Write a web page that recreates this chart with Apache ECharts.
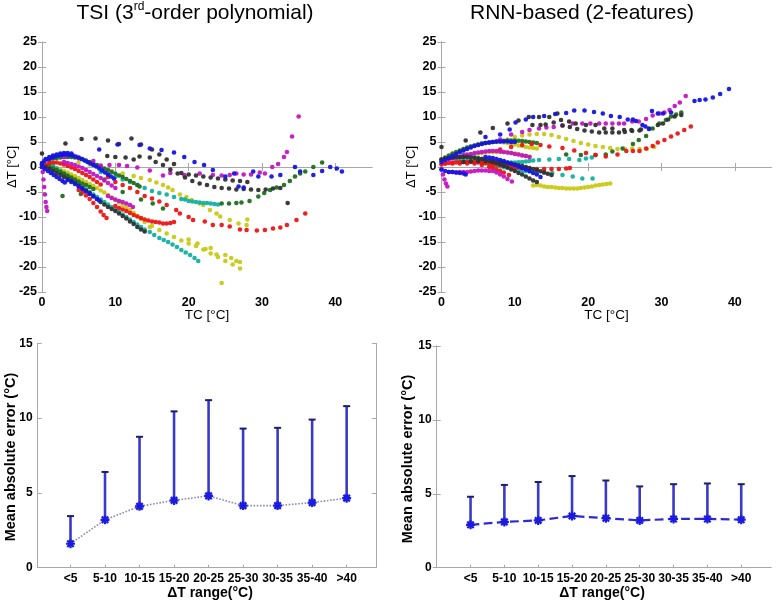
<!DOCTYPE html>
<html>
<head>
<meta charset="utf-8">
<script src="https://cdn.jsdelivr.net/npm/echarts@6/dist/echarts.min.js"></script>
<style>html,body{margin:0;padding:0;background:#fff}#c{width:778px;height:600px}</style>
</head>
<body>
<div id="c"></div>
<script>
// ---------- Top-left: TSI (3rd-order polynomial), points [TC, dT] ----------
const tsiBlue = [
[0,0.8],[0.3,1.2],[0.6,1.5],[1,1.7],[1.4,1.9],[1.8,2.1],[2.2,2.3],[2.6,2.4],[3,2.5],[3.4,2.5],[3.8,2.4],[4.2,2.3],[4.6,2.1],[5,1.9],[5.4,1.6],[5.8,1.3],[6.2,1],[6.6,0.7],[7,0.4],[7.4,0.1],[7.8,-0.3],[8.2,-0.7],[8.6,-1.1],[9,-1.5],[9.4,-1.9],[9.8,-2.3],
[0.5,1.6],[1,2],[1.5,2.3],[2,2.5],[2.5,2.7],[3,2.8],[3.5,2.8],[4,2.7],
[0,0],[0.4,-0.4],[0.8,-0.8],[1.2,-1.2],[1.6,-1.6],[2,-2],[2.4,-2.4],[2.8,-2.8],[3.1,-3.1],
[3.5,-2.6],[4,-3],[4.5,-3.4],[5,-3.9],[5.5,-4.4],[6,-4.9],[6.5,-5.4],[7,-5.9],[7.5,-6.4],[7.8,-6.7],
[7.8,3.5],[10.3,4.5],[13.3,4.4],[14.7,3.7],[16.3,3.4],[18,2.9],[19.4,2],[20.8,1],[22.1,0.4],[23.3,-0.6],[25,-1.9],[26.2,-1.3],[26.8,-3.9],[27.5,-4.1],[28.8,-0.9],[29.5,-1.9],[31.3,-1.9],[32.5,-1.6],[34.5,0],[35.2,-0.9],[37,-1.6],[38.2,-0.8],[39.3,0],[40.2,-0.3],[40.9,-0.9]
];
const tsiGreen = [
[1,1.5],[1.5,1.7],[2,1.8],[2.5,1.9],[3,2],[3.5,2],[4,2],[4.5,1.9],[5,1.8],[5.5,1.6],[6,1.3],[6.5,1],[7,0.7],[7.5,0.4],[8,0.1],[8.5,-0.3],[9,-0.6],[9.5,-1],[10,-1.3],[10.5,-1.7],[11,-2],[11.5,-2.4],[12,-2.8],[12.5,-3.2],[13,-3.6],[13.3,-3.9],
[0,0.5],[0.5,0.3],[1,0],[1.5,-0.3],[2,-0.6],[2.5,-1],[3,-1.3],[3.5,-1.7],[4,-2.1],[4.5,-2.5],[5,-2.9],[5.5,-3.3],[6,-3.6],[6.5,-4],[7,-4.4],
[24.5,-7.3],[25.5,-7.3],[26.5,-7.2],[27.2,-7.1],[28.3,-6.8],[29.5,-5.9],[30.3,-5.2],[31.1,-4.6],[32,-4.1],[33,-3.6],[33.8,-2.8],[34.5,-1.9],[35.2,-1.3],[35.9,-0.9],[37,0],[38.2,0.9],
[2.8,-5.8],[5.3,-5.4],[8.5,-2.5],[11,-5],[15.1,-7.3],[16.5,-8.3],[13.5,-6.5]
];
const tsiRed = [
[5,-4.6],[5.5,-5.1],[6,-5.7],[6.5,-6.4],[7,-7.2],[7.5,-8],[8,-8.9],[8.4,-9.6],[8.8,-10.2],
[10,-7.8],[10.5,-8.2],[11,-8.5],[11.5,-8.8],[12,-9.2],[12.5,-9.6],[13,-9.9],[13.5,-10.2],[14,-10.5],[14.5,-10.7],[15,-10.9],[15.5,-11],[16,-11.1],[16.5,-11.3],[17,-11.3],[17.5,-11.2],[18,-11],
[9,-2],[10,-3],[11,-3.6],[12,-4.2],[13,-5],[14,-5.8],[15,-6.3],[16,-6.9],[17,-7.6],[18.3,-8.6],[18.8,-9.3],[20,-10],[20.6,-10.6],[22.2,-10.9],[23.3,-11.6],[24.5,-11.6],[25.6,-11.9],[27,-12.5],[27.9,-12.6],[29.3,-12.7],[30.4,-12.6],[31.5,-12.3],[32.5,-12.1],[33.4,-11.6],[34.7,-10.6],[35.9,-9.3],
[0,0],[0.5,0.5],[1,0.8],[1.5,0.9],[2,0.9],[2.5,0.7],[3,0.5],[3.5,0.2],[4,-0.1],[4.5,-0.4],[5,-0.8],[5.5,-1.2],[6,-1.6],[6.5,-2],[7,-2.5],[7.5,-3],[8,-3.5]
];
const tsiCyan = [
[1,0.8],[1.5,0.3],[2,-0.3],[2.5,-0.8],[3,-1.4],[3.5,-1.9],[4,-2.5],[4.5,-3],[5,-3.5],[5.5,-4],[6,-4.5],[6.5,-5],[7,-5.5],[7.5,-6],[8,-6.5],[8.5,-7],[9,-7.5],[9.5,-8],[10,-8.5],[10.5,-9],[11,-9.5],[11.5,-10],[12,-10.5],[12.5,-11],[13,-11.5],[13.5,-12],[14,-12.5],[14.7,-13],[15.3,-13.6],[16,-14.2],[16.6,-14.6],[17.2,-15],[17.8,-15.5],[18.4,-16],[19,-16.6],[19.6,-17.1],[20.2,-17.6],[20.8,-18.2],[21.3,-18.8],
[8,-1],[9,-1.5],[10,-2],[11,-2.5],[12,-3],[13,-3.6],[14,-4.2],[15,-4.8],[16,-5.2],[17,-5.5],[18,-6],[19,-6.4],[19.5,-6.5],[20,-6.8],[20.5,-6.9],[21,-7],[21.5,-7.1],[22,-7.2],[22.5,-7.2],[23,-7.3],[23.5,-7.4],[24,-7.5]
];
const tsiMagenta = [
[0,0],[0.1,-1],[0.2,-2.5],[0.3,-4],[0.4,-5.5],[0.5,-7],[0.6,-8],[0.7,-8.8],
[3,1],[3.5,0.8],[4,0.6],[4.5,0.4],[5,0.1],[5.5,-0.2],[6,-0.6],[6.5,-1],[7,-1.4],[7.5,-1.8],[8,-2.2],[8.5,-2.7],[9,-3.2],[9.5,-3.7],[10,-4.2],
[9,-5.8],[9.5,-6.2],[10,-6.5],[10.5,-6.8],[11,-7],[11.5,-7.3],[12,-7.6],[12.4,-8],
[3,2],[5,1.8],[7,1.2],[8,0.3],[9.2,0.4],[10.5,0.4],[11.6,0.2],[13,-0.1],[14.7,-0.7],[16.5,-1.7],[17.5,-1.2],[19.4,-1.6],[21.5,-1.3],[23.3,-1.6],[24.5,-1.7],[25.6,-1.6],[26.5,-1.3],[27.5,-1.5],[28.5,-1.5],[29.7,-1.1],[30.4,-1.3],[31.4,0],[32.2,0.6],[33,2],[33.4,3],[34.1,6.1],[35,10.1]
];
const tsiYellow = [
[1,0.5],[1.5,0.2],[2,-0.2],[2.5,-0.5],[3,-0.8],[3.5,-1.1],[4,-1.5],[4.5,-1.8],[5,-2.2],[5.5,-2.6],[6,-3],[6.5,-3.4],[7,-3.8],[7.5,-4.2],[8,-4.7],[8.5,-5.1],[9,-5.6],[9.5,-6.1],[10,-6.6],[10.5,-7.1],[11,-7.6],[11.5,-8.1],[12,-8.6],[12.5,-9.2],[13,-9.8],[13.5,-10.4],[14,-11],[14.7,-12],
[15,-11.8],[16,-12.6],[17,-13.3],[18,-14],[19,-14.7],[20,-15.3],[21,-15.8],[22,-16.5],[23,-17.3],[24,-18],[25,-18.8],[26,-19.5],[27,-20.3],
[20,-14.5],[21.2,-15.3],[22.3,-16.4],[23,-16.2],[23.8,-17.5],[24.5,-23.2],[25,-17.6],[25.8,-18.2],[26.5,-18.8],[27,-19],
[5,1],[6.5,0.5],[8,-0.2],[9.5,-0.8],[11,-1.3],[12.5,-1.8],[13.5,-2.2],[14.7,-2.6],[15.6,-3.1],[16.5,-3.6],[17.2,-4.1],[17.8,-4.6],[18.8,-5.5],[19.7,-6],[20.4,-6.6],[21.5,-7.3],[22,-7.6],[22.9,-8.6],[23.8,-9.3],[24.3,-9.9],[25.6,-10.6],[26.8,-11.3],[27.9,-11.6],[28,-10.5]
];
const tsiBlack = [
[0,0.5],[0.5,0],[1,-0.4],[1.5,-0.8],[2,-1.2],[2.5,-1.6],[3,-2],[3.5,-2.4],[4,-2.8],[4.5,-3.2],[5,-3.7],[5.5,-4.2],[6,-4.7],[6.5,-5.2],[7,-5.8],[7.5,-6.4],[8,-7],[8.5,-7.5],[9,-8],[9.5,-8.4],[10,-8.8],[10.5,-9.3],[11,-9.8],[11.5,-10.3],[12,-10.9],[12.5,-11.4],[13,-12],[13.5,-12.5],[14,-12.9],
[0,2.7],[3.2,4.7],[5.4,5.6],[7.3,5.7],[9,5.3],[10.5,4.6],[12.2,5.7],[13.5,4.5],[15,3.5],[16,2.5],[17,1.5],[18,0.6],[19,-1.2],[20,-1.5],[21,-1.7],[22,-1.9],[23,-2.1],[24,-2.3],[25,-2.5],[26,-2.7],[27,-2.8],[28,-3],
[8.9,2.2],[10,2],[11.4,1.9],[12.5,1.5],[13.3,2.1],[14.7,1.9],[15.5,1],[16.5,0.4],[17.5,-0.5],[18.5,-1.3],[19.5,-2.1],[20.5,-2.8],[21.5,-3.3],[22.5,-3.6],[23.5,-4],[24.5,-4.2],[25.5,-4.3],[26.5,-4.5],[27.5,-4.4],[28.5,-4.5],[29.5,-4.6],[30.5,-4.5],[31.5,-4.3],[32.5,-4.2],[33.5,-7.2]
];

// ---------- Top-right: RNN-based (2-features) ----------
const rnnBlue = [
[6,6],[8,6.5],[9.3,7.5],[10.1,8.9],[11.5,9.5],[12.5,10],[14,10.2],[15.5,10.6],[17,10.8],[18.1,11.3],[19.5,11.3],[20.8,11],[22,10.7],[23.1,10.2],[24.3,10],[25.4,9.5],[26.1,9.5],[26.5,9.2],[27.4,8.4],[27.8,8.1],[28.3,7.6],[28.7,11.2],[29.5,10.7],[30.2,10.7],[31.3,10.9],[34.5,13.2],[35.2,13.4],[36,13.5],[37,13.9],[38,14.6],[39.2,15.6],
[0,1],[0.5,1.4],[1,1.8],[1.5,2.2],[2,2.6],[2.5,3],[3,3.3],[3.5,3.6],[4,3.9],[4.5,4.2],[5,4.4],[5.5,4.6],[6,4.8],[6.5,4.9],[7,5],[7.5,5.1],[8,5.1],[8.5,5.1],[9,5.1],[9.5,5],[10,5],
[6,2],[6.5,1.9],[7,1.8],[7.5,1.6],[8,1.4],[8.5,1.2],[9,0.9],[9.5,0.7],[10,0.4],[10.5,0.1],[11,-0.2],[11.5,-0.5],[12,-0.8],[12.5,-1.2],[13,-1.5],[13.5,-2],
[0,-0.5],[0.5,-0.8],[1,-1],[1.5,-1],[2,-1.1],[2.5,-1.2],[3,-1.3],[3.3,-1.5]
];
const rnnGreen = [
[17,2.5],[19,2.4],[21,2.4],[22.4,2.5],[23.3,3.1],[24.7,3.7],[26.1,4.6],[26.9,5.4],[27.9,6.2],[28.8,7.7],[29.7,8.7],[30.6,9.4],[31.3,10.1],[32,10.5],[32.7,10.9],
[0,1.5],[0.5,1.9],[1,2.3],[1.5,2.7],[2,3],[2.5,3.3],[3,3.6],[3.5,3.9],[4,4.1],[4.5,4.3],[5,4.5],[5.5,4.7],[6,4.8],[6.5,4.9],[7,5],[7.5,5.1],[8,5.2],[8.5,5.25],[9,5.3],[9.5,5.3],[10,5.3],[10.5,5.25],[11,5.2],[11.5,5.1],[12,5],[12.5,4.9],[13,4.8]
];
const rnnRed = [
[8,3.5],[9.5,4],[11,4.4],[12.3,4.6],[13.5,4.4],[14.7,4.1],[16.5,3.8],[18.1,3.3],[19.7,2.8],[21,2.4],[22.4,2.1],[24,2.5],[25.2,3.2],[26.1,3.2],[27,3.2],[27.9,3.7],[28.8,4.2],[29.5,4.9],[30.4,5.4],[31.3,6.1],[32.2,6.7],[33.1,7.4],[34,8.1],
[0,0.5],[0.5,0.7],[1,0.8],[1.5,0.85],[2,0.9],[2.5,0.95],[3,1],[3.5,1],[4,1],[4.5,0.95],[5,0.9],[5.5,0.85],[6,0.8],[6.5,0.7],[7,0.6],[7.5,0.5],[8,0.4],[8.5,0.3],[9,0.2],[9.5,0.1],[10,0],[10.5,-0.1],[11,-0.2],[11.5,-0.25],[12,-0.3],[13,-0.4],[14,-0.4],[15,-0.4],[16,-0.4],[17,-0.3],[17.5,-0.2],
[0.5,0.7],[1.5,0.7],[2.5,0.7],[3.5,0.7],[4.5,0.7],[5.5,0.4],[6.5,0],[7,-0.2],[7.5,-0.5],[8,-0.8],[8.5,-1.1],[9.2,-1.6]
];
const rnnCyan = [
[3,2.5],[3.5,2.35],[4,2.2],[4.5,2],[5,1.8],[5.5,1.65],[6,1.5],[6.5,1.35],[7,1.2],[7.5,1.1],[8,1],[8.5,0.95],[9,0.9],[9.5,0.9],[10,0.9],[10.5,0.95],[11,1],[11.5,1.1],[12,1.2],[12.5,1.3],[13.3,1.4],[14.7,1.5],[16,1.6],[17.4,1.6],[18.8,1.4],[19.7,1.7],[20.5,1.9],
[2,1.5],[2.5,1.45],[3,1.4],[3.5,1.3],[4,1.2],[4.5,1.1],[5,1],[5.5,0.85],[6,0.7],[6.5,0.55],[7,0.4],[7.5,0.25],[8,0.1],[8.5,-0.05],[9,-0.2],[9.5,-0.3],[10,-0.4],[10.5,-0.55],[11,-0.7],[11.5,-0.8],[12,-0.9],[13,-1],[14,-1.1],[15.1,-1.2],[16.5,-1.6],[17.9,-1.9],[19.2,-2.3],[20.6,-2.3]
];
const rnnMagenta = [
[8,5.5],[9.5,6.5],[11,7],[12,7.4],[13.3,7.7],[14.3,7.9],[15.3,8],[16.5,8.3],[17.9,8.7],[19.2,8.7],[20.3,8.7],[21.5,8.7],[22.4,8.7],[23.3,8.7],[24.2,8.7],[24.9,8.7],[26,9.1],[26.9,9.1],[27.9,9.6],[28.8,10.3],[29.7,10.7],[30.4,10.9],[31.1,11.4],[31.8,12.2],[32.5,12.9],[33.3,14.2],
[1,1.5],[1.5,1.7],[2,1.9],[2.5,2.1],[3,2.3],[3.5,2.5],[4,2.6],[4.5,2.8],[5,2.9],[5.5,3],[6,3.1],[6.5,3.2],[7,3.2],[7.5,3.2],[8,3.1],[8.5,3],[9,2.9],[9.5,2.8],[10,2.6],[10.5,2.5],[11,2.3],[11.5,2.2],[12,2],
[0,-0.5],[0.2,-1.5],[0.4,-2.5],[0.6,-3.3],[0.8,-3.9],
[1,-1],[1.5,-1],[2,-1.1],[2.5,-1],[3,-1],[3.5,-1],[4,-0.9],[4.5,-0.8],[5,-0.7],[5.5,-0.7],[6,-0.7],[6.5,-0.8],[7,-0.8],[7.5,-1.1],[8,-1.5],[8.5,-1.9],[9,-2.4],[9.6,-2.9]
];
const rnnYellow = [
[9,5.5],[10,6],[11,6.3],[12,6.5],[13,6.6],[14,6.6],[15,6.4],[16,6],[17,5.6],[18,5.2],[19,4.8],[20,4.5],[21,4.2],[22,4],[23,3.8],[24,3.6],[25,3.6],[26,3.7],[27,3.6],[28,3.6],[29,4],
[0,1],[0.5,1.5],[1,2],[1.5,2.4],[2,2.8],[2.5,3.2],[3,3.5],[3.5,3.8],[4,4.1],[4.5,4.3],[5,4.5],[5.5,4.7],[6,4.8],[6.5,4.9],[7,5],[7.5,5],[8,5],[8.5,4.9],[9,4.8],[9.5,4.6],[10,4.5],[10.5,4.3],[11,4.2],[11.5,4],[12,3.9],[12.5,3.8],[13,3.7],
[2,1.5],[2.5,1.8],[3,2],[3.5,2.2],[4,2.4],[4.5,2.6],[5,2.7],[5.5,2.8],[6,2.9],[6.5,3],[7,3],[7.5,3],[8,3],[8.5,2.95],[9,2.9],[9.5,2.8],[10,2.7],[10.5,2.55],[11,2.4],[11.5,2.25],[12,2.1],
[12.5,-3.7],[13,-3.6],[13.5,-3.7],[14,-3.9],[14.5,-4],[15,-4],[15.5,-4.1],[16,-4.2],[16.5,-4.2],[17,-4.3],[17.5,-4.3],[18,-4.3],[18.5,-4.3],[19,-4.2],[19.5,-4.1],[20,-4],[20.5,-3.9],[21,-3.7],[21.5,-3.6],[22,-3.5],[22.5,-3.4],[23,-3.3]
];
const rnnBlack = [
[0,4],[3.3,5.3],[5.3,6.9],[7,7.8],[9,8.7],[10.5,9.3],[11.9,10],[13.3,10],[14.7,10],[15.8,10.7],[16.3,9.4],[17.4,9.1],[18.3,8.7],[19.7,8.4],[21,8.4],[22.2,7.7],[23.3,7.7],[24.9,7.4],[25.9,7.4],[27.2,7.5],[28.3,7.7],[29.5,8.4],[30.2,8.7],[30.9,9.5],[31.8,10.1],[32.7,10.4],
[12.4,8.4],[13.5,8.4],[14.2,8.5],[15.3,8.9],[16.5,8.3],[17.5,8],[18.5,7.6],[19.5,7.3],[20.5,7.1],[21.5,6.9],[22.4,6.9],[23.3,6.9],[24.2,6.9],[25,7],[26,7.2],[27,7.3],
[0,1.5],[0.5,1.7],[1,1.8],[1.5,1.9],[2,2],[2.5,2],[3,2],[3.5,2],[4,1.9],[4.5,1.8],[5,1.7],[5.5,1.6],[6,1.4],[6.5,1.2],[7,1],[7.5,0.8],[8,0.5],[8.5,0.2],[9,-0.1],[9.5,-0.5],[10,-0.8],[10.5,-1.2],[11,-1.5],[11.5,-1.9],[12,-2.3],[12.5,-2.7],[13,-3],
[3,1],[4,1.1],[5,1.2],[6,1.2],[7,1.1],[8,1],[8.5,0.9],[9,0.8],[9.5,0.65],[10,0.5],[10.5,0.35],[11,0.2],[11.5,0],[12,-0.2],[12.5,-0.4],[13,-0.6],[13.5,-0.85],[14,-1.1],[14.5,-1.35],[15,-1.6]
];

// ---------- Bottom: mean absolute error per ΔT range ----------
const rangeCats = ['<5','5-10','10-15','15-20','20-25','25-30','30-35','35-40','>40'];
const tsiMean = [1.6, 3.2, 4.1, 4.5, 4.8, 4.15, 4.15, 4.35, 4.65];
const tsiUpper = [3.45, 6.4, 8.75, 10.45, 11.2, 9.3, 9.35, 9.9, 10.8];
const rnnMean = [2.9, 3.1, 3.2, 3.5, 3.35, 3.2, 3.3, 3.3, 3.25];
const rnnUpper = [4.8, 5.6, 5.8, 6.2, 5.9, 5.5, 5.65, 5.7, 5.65];

const topXTicks = [0, 10, 20, 30, 40];
const catPositions = rangeCats.map((c, i) => i + 1);

const FONT = '"Liberation Sans", Arial, sans-serif';
const COLORS = {b:'#1414e6', g:'#1e6e1e', r:'#ee1414', c:'#12b0a2', m:'#c414c4', y:'#c8c814', k:'#303030'};
const AX = '#a8a8a8';

const chart = echarts.init(document.getElementById('c'), null, {renderer:'canvas'});

function boxAxisX(grid, pos, extra) {
  return Object.assign({
    gridIndex: grid, position: pos, type: 'value',
    axisLine: {show: true, lineStyle: {color: AX, width: 1}},
    axisTick: {show: true, inside: true, length: 4, lineStyle: {color: AX}},
    axisLabel: {show: false}, splitLine: {show: false}
  }, extra);
}
const tickLabel = {color: '#000', fontWeight: 'bold', fontSize: 12.5, fontFamily: FONT};

const xAxes = [];
const yAxes = [];
for (let g = 0; g < 2; g++) {
  xAxes.push(boxAxisX(g, 'bottom', {min: 0, max: 45,
    axisTick: {show: true, inside: true, length: 4, lineStyle: {color: AX}, customValues: [10,20,30,40]},
    axisLabel: Object.assign({show: true, margin: 4, customValues: topXTicks}, tickLabel)}));
  xAxes.push(boxAxisX(g, 'top', {min: 0, max: 45,
    axisTick: {show: true, inside: true, length: 4, lineStyle: {color: AX}, customValues: [10,20,30,40]}}));
  yAxes.push(boxAxisX(g, 'left', {min: -25, max: 25, interval: 5,
    axisLabel: Object.assign({show: true, margin: 5}, tickLabel)}));
  yAxes.push(boxAxisX(g, 'right', {min: -25, max: 25, interval: 5}));
}
const bx = [[0.05, 9.85], [0.0, 9.88]];
for (let g = 2; g < 4; g++) {
  const r = bx[g - 2];
  xAxes.push(boxAxisX(g, 'bottom', {min: r[0], max: r[1],
    axisTick: {show: true, inside: true, length: 3, lineStyle: {color: AX}, customValues: catPositions},
    axisLabel: Object.assign({show: true, margin: 5, customValues: catPositions,
      formatter: v => rangeCats[Math.round(v) - 1] || ''}, tickLabel, {fontSize: 12})}));
  xAxes.push(boxAxisX(g, 'top', {min: r[0], max: r[1], axisTick: {show: false}}));
  yAxes.push(boxAxisX(g, 'left', {min: 0, max: 15, interval: 5,
    axisLabel: Object.assign({show: true, margin: 5}, tickLabel, {fontSize: 12})}));
  yAxes.push(boxAxisX(g, 'right', {min: 0, max: 15, interval: 5}));
}

function scat(data, color, gi) {
  return {type: 'scatter', xAxisIndex: gi * 2, yAxisIndex: gi * 2, data: data,
    symbol: 'circle', symbolSize: 4.6, itemStyle: {color: color, opacity: 0.95}, silent: true};
}

function errRender(params, api) {
  const x = api.value(0), lo = api.value(1), hi = api.value(2);
  const p1 = api.coord([x, lo]), p2 = api.coord([x, hi]);
  return {type: 'group', children: [
    {type: 'line', shape: {x1: p1[0], y1: p1[1], x2: p2[0], y2: p2[1]}, style: {stroke: '#3a3ac8', lineWidth: 2.6}},
    {type: 'line', shape: {x1: p2[0] - 3.5, y1: p2[1], x2: p2[0] + 3.5, y2: p2[1]}, style: {stroke: '#1c1c70', lineWidth: 2}}
  ]};
}
const STAR = 'path://M0,-5L0,5M-5,0L5,0M-3.6,-3.6L3.6,3.6M-3.6,3.6L3.6,-3.6';

function meanSeries(mean, gi, lineType, lineColor, lw) {
  return {type: 'line', xAxisIndex: gi * 2, yAxisIndex: gi * 2,
    data: mean.map((v, i) => [catPositions[i], v]),
    lineStyle: {type: lineType, color: lineColor, width: lw},
    symbol: STAR, symbolSize: 9, showSymbol: true,
    itemStyle: {color: '#1a1ae0', borderColor: '#1a1ae0', borderWidth: 2.2},
    z: 5, silent: true};
}
function errSeries(mean, upper, gi) {
  return {type: 'custom', xAxisIndex: gi * 2, yAxisIndex: gi * 2, renderItem: errRender,
    data: mean.map((v, i) => [catPositions[i], v, upper[i]]), z: 3, silent: true};
}

const nameStyle = (txt, x, y, rot, size, weight) => ({
  type: 'text', x: x, y: y, rotation: rot,
  style: {text: txt, fill: '#000', font: (weight || 'normal') + ' ' + size + 'px ' + FONT,
    textAlign: 'center', textVerticalAlign: 'middle'}
});

const option = {
  animation: false,
  backgroundColor: '#fff',
  grid: [
    {left: 42, top: 42, width: 330, height: 250},
    {left: 441.5, top: 42, width: 330, height: 250},
    {left: 37.7, top: 343.3, width: 338.3, height: 224.4},
    {left: 436.7, top: 346, width: 334.3, height: 221.7}
  ],
  xAxis: xAxes,
  yAxis: yAxes,
  graphic: [
    {type: 'text', x: 195, y: 13, style: {
      text: '{a|TSI (3}{s|rd}{a|-order polynomial)}', textAlign: 'center', textVerticalAlign: 'middle',
      rich: {a: {fontSize: 21, fontFamily: FONT, fill: '#000', lineHeight: 24},
             s: {fontSize: 12, fontFamily: FONT, fill: '#000', verticalAlign: 'top', lineHeight: 12}}}},
    {type: 'text', x: 582, y: 13, style: {text: 'RNN-based (2-features)', fill: '#000',
      font: '21px ' + FONT, textAlign: 'center', textVerticalAlign: 'middle'}},
    nameStyle('ΔT [°C]', 12, 167, Math.PI / 2, 13),
    nameStyle('ΔT [°C]', 411, 167, Math.PI / 2, 13),
    nameStyle('TC [°C]', 207, 315, 0, 13.5),
    nameStyle('TC [°C]', 606.5, 315, 0, 13.5),
    nameStyle('Mean absolute error (°C)', 11, 457, Math.PI / 2, 14.5, 'bold'),
    nameStyle('Mean absolute error (°C)', 408, 459, Math.PI / 2, 14.5, 'bold'),
    nameStyle('ΔT range(°C)', 210, 593, 0, 14, 'bold'),
    nameStyle('ΔT range(°C)', 602, 593, 0, 14, 'bold')
  ],
  series: [
    scat(tsiYellow, COLORS.y, 0), scat(tsiCyan, COLORS.c, 0), scat(tsiGreen, COLORS.g, 0),
    scat(tsiRed, COLORS.r, 0), scat(tsiMagenta, COLORS.m, 0), scat(tsiBlack, COLORS.k, 0), scat(tsiBlue, COLORS.b, 0),
    scat(rnnYellow, COLORS.y, 1), scat(rnnCyan, COLORS.c, 1), scat(rnnGreen, COLORS.g, 1),
    scat(rnnRed, COLORS.r, 1), scat(rnnMagenta, COLORS.m, 1), scat(rnnBlack, COLORS.k, 1), scat(rnnBlue, COLORS.b, 1),
    errSeries(tsiMean, tsiUpper, 2), meanSeries(tsiMean, 2, 'dotted', '#8a8ab4', 1.6),
    errSeries(rnnMean, rnnUpper, 3), meanSeries(rnnMean, 3, 'dashed', '#2a2ad0', 2.2)
  ]
};
chart.setOption(option);
</script>
</body>
</html>
